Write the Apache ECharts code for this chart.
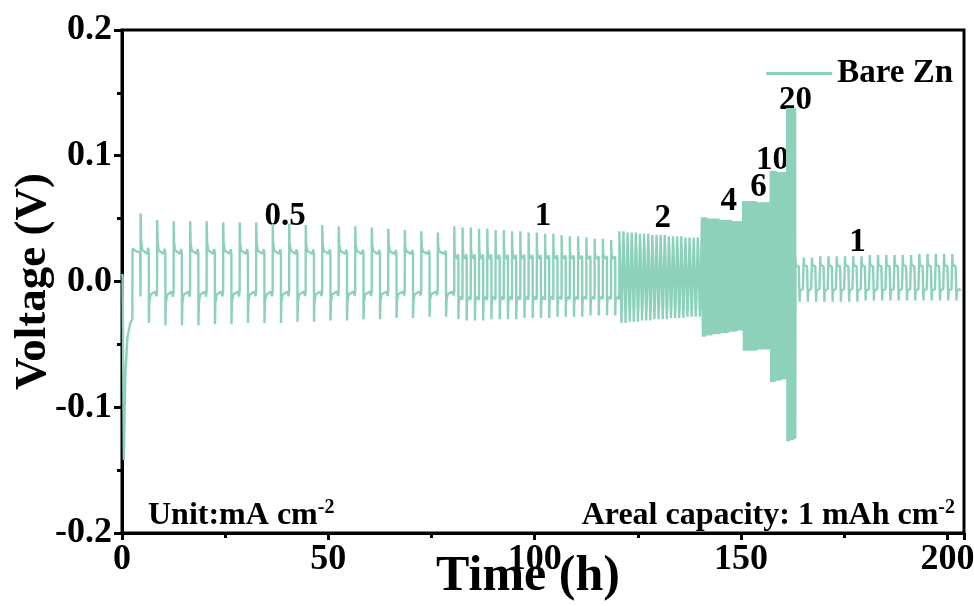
<!DOCTYPE html>
<html>
<head>
<meta charset="utf-8">
<script src="https://cdn.jsdelivr.net/npm/echarts@6/dist/echarts.min.js"></script>
<style>
  html, body { margin: 0; padding: 0; background: #fff; }
  #main { width: 974px; height: 606px; }
</style>
</head>
<body>
<div id="main"></div>
<script>
// current density of each step (mA cm-2), where it starts (h), hours per cycle
var rateLabels = ['0.5', '1', '2', '4', '6', '10', '20', '1'];
var segStart = [4.5, 80.5, 120.5, 140.5, 150.5, 157.17, 161.17, 163.17];
var cycleHours = [4, 2, 1, 0.5, 1 / 3, 0.2, 0.1, 2];

// plateau levels (V) of each step
var plateauTop = [0.022, 0.018, 0.027, 0.044, 0.058, 0.080, 0.125, 0.012];
var plateauBottom = [-0.008, -0.012, -0.021, -0.036, -0.048, -0.070, -0.115, -0.006];

// spike values of every cycle
var peakTop = [
    [0.054, 0.049, 0.048, 0.048, 0.048, 0.047, 0.047, 0.047, 0.046, 0.046, 0.045, 0.045, 0.044, 0.044, 0.043, 0.042, 0.041, 0.040, 0.039],
    [0.044, 0.043, 0.043, 0.042, 0.042, 0.041, 0.041, 0.040, 0.040, 0.039, 0.039, 0.038, 0.038, 0.037, 0.036, 0.036, 0.035, 0.034, 0.034, 0.033],
    [0.040, 0.040, 0.039, 0.039, 0.039, 0.038, 0.038, 0.038, 0.037, 0.037, 0.037, 0.037, 0.036, 0.036, 0.036, 0.036, 0.035, 0.035, 0.035, 0.035],
    [0.051, 0.051, 0.051, 0.050, 0.050, 0.050, 0.050, 0.050, 0.050, 0.049, 0.049, 0.049, 0.049, 0.049, 0.049, 0.048, 0.048, 0.048, 0.048, 0.048],
    [0.064, 0.064, 0.064, 0.064, 0.064, 0.064, 0.064, 0.064, 0.064, 0.064, 0.063, 0.063, 0.063, 0.063, 0.063, 0.063, 0.063, 0.063, 0.063, 0.063],
    [0.088, 0.088, 0.088, 0.088, 0.088, 0.088, 0.088, 0.087, 0.087, 0.087, 0.087, 0.087, 0.087, 0.087, 0.087, 0.087, 0.087, 0.087, 0.087, 0.087],
    [0.138, 0.138, 0.138, 0.138, 0.138, 0.138, 0.138, 0.138, 0.138, 0.138, 0.138, 0.138, 0.138, 0.138, 0.138, 0.138, 0.138, 0.138, 0.138, 0.138],
    [0.019, 0.019, 0.019, 0.020, 0.020, 0.020, 0.020, 0.020, 0.020, 0.021, 0.021, 0.021, 0.021, 0.021, 0.021, 0.022, 0.022, 0.022, 0.022, 0.022]
];
var peakBottom = [
    [-0.033, -0.035, -0.035, -0.035, -0.034, -0.034, -0.033, -0.033, -0.033, -0.032, -0.032, -0.031, -0.031, -0.030, -0.030, -0.029, -0.029, -0.028, -0.028],
    [-0.030, -0.031, -0.031, -0.031, -0.030, -0.030, -0.030, -0.030, -0.029, -0.029, -0.029, -0.029, -0.028, -0.028, -0.028, -0.028, -0.027, -0.027, -0.027, -0.027],
    [-0.033, -0.033, -0.032, -0.032, -0.032, -0.031, -0.031, -0.031, -0.030, -0.030, -0.030, -0.030, -0.029, -0.029, -0.029, -0.029, -0.028, -0.028, -0.028, -0.028],
    [-0.044, -0.044, -0.043, -0.043, -0.043, -0.042, -0.042, -0.042, -0.042, -0.041, -0.041, -0.041, -0.041, -0.040, -0.040, -0.040, -0.040, -0.039, -0.039, -0.039],
    [-0.055, -0.055, -0.055, -0.055, -0.055, -0.055, -0.055, -0.055, -0.055, -0.055, -0.054, -0.054, -0.054, -0.054, -0.054, -0.054, -0.054, -0.054, -0.054, -0.054],
    [-0.080, -0.080, -0.080, -0.080, -0.080, -0.079, -0.079, -0.079, -0.079, -0.079, -0.079, -0.079, -0.078, -0.078, -0.078, -0.078, -0.078, -0.078, -0.078, -0.078],
    [-0.127, -0.127, -0.127, -0.127, -0.127, -0.127, -0.126, -0.126, -0.126, -0.126, -0.126, -0.126, -0.126, -0.126, -0.125, -0.125, -0.125, -0.125, -0.125, -0.125],
    [-0.016, -0.016, -0.016, -0.016, -0.016, -0.016, -0.016, -0.016, -0.015, -0.015, -0.015, -0.015, -0.015, -0.015, -0.015, -0.015, -0.015, -0.015, -0.015, -0.015]
];

// first hours before cycling settles (nucleation dip)
var initTime = [0, 0.15, 0.45, 0.8, 1.3, 2.0, 2.5, 2.55, 3.5, 4.4, 4.48];
var initVolt = [0.006, 0.004, -0.142, -0.075, -0.045, -0.033, -0.030, 0.026, 0.024, 0.023, -0.012];

// shape of one half cycle: position in the half, share of the spike height
var halfPos = [0.01, 0.06, 0.2, 0.8, 0.92, 1.0];
var halfSpike = [1, 0.35, 0.1, 0, 0.15, 0];

// where the current labels sit (h, V)
var labelTime = [39.5, 102, 131, 147, 154.2, 157.6, 163.2, 178.2];
var labelVolt = [0.052, 0.052, 0.050, 0.064, 0.075, 0.096, 0.144, 0.031];

var data = [];
for (var i = 0; i < initTime.length; i++) data.push([initTime[i], initVolt[i]]);
for (var s = 0; s < segStart.length; s++) {
    var half = cycleHours[s] / 2;
    for (var c = 0; c < peakTop[s].length; c++) {
        var t0 = segStart[s] + c * cycleHours[s];
        for (var k = 0; k < halfPos.length; k++) {
            data.push([t0 + halfPos[k] * half,
                plateauTop[s] + halfSpike[k] * (peakTop[s][c] - plateauTop[s])]);
        }
        for (var k = 0; k < halfPos.length; k++) {
            data.push([t0 + half + halfPos[k] * half,
                plateauBottom[s] + halfSpike[k] * (peakBottom[s][c] - plateauBottom[s])]);
        }
    }
}

var labels = [];
for (var i = 0; i < rateLabels.length; i++) labels.push([labelTime[i], labelVolt[i], rateLabels[i]]);

var font = 'Liberation Serif';
var myChart = echarts.init(document.getElementById('main'));
option = {
    animation: false,
    backgroundColor: '#fff',
    grid: {
        left: 122, right: 10, top: 30, bottom: 73,
        outerBoundsMode: 'none',
        show: true, borderColor: '#000', borderWidth: 3
    },
    legend: {
        data: ['Bare Zn'],
        right: 16, top: 52,
        icon: 'rect', itemWidth: 66, itemHeight: 3, itemGap: 8,
        textStyle: { fontFamily: font, fontWeight: 'bold', fontSize: 33, color: '#000' }
    },
    xAxis: {
        type: 'value', min: 0, max: 204, interval: 50,
        name: 'Time (h)', nameLocation: 'middle', nameGap: 19, nameMoveOverlap: false,
        nameTextStyle: { fontFamily: font, fontWeight: 'bold', fontSize: 50, color: '#000', padding: [0, 30, 0, 0] },
        axisLine: { onZero: false, lineStyle: { color: '#000', width: 3 } },
        axisTick: { inside: false, length: 7, lineStyle: { color: '#000', width: 3 } },
        minorTick: { show: true, splitNumber: 2, length: 5, lineStyle: { color: '#000', width: 3 } },
        splitLine: { show: false },
        axisLabel: {
            showMaxLabel: false, margin: 9, color: '#000',
            fontFamily: font, fontWeight: 'bold', fontSize: 36
        }
    },
    yAxis: {
        type: 'value', min: -0.2, max: 0.2, interval: 0.1,
        name: 'Voltage (V)', nameLocation: 'middle', nameGap: 66, nameMoveOverlap: false,
        nameTextStyle: { fontFamily: font, fontWeight: 'bold', fontSize: 45, color: '#000' },
        axisLine: { onZero: false, lineStyle: { color: '#000', width: 3 } },
        axisTick: { inside: false, length: 8, lineStyle: { color: '#000', width: 3 } },
        minorTick: { show: true, splitNumber: 2, length: 5, lineStyle: { color: '#000', width: 3 } },
        splitLine: { show: false },
        axisLabel: {
            margin: 10, color: '#000',
            fontFamily: font, fontWeight: 'bold', fontSize: 36,
            formatter: function (v) { return v.toFixed(1); }
        }
    },
    series: [
        {
            name: 'Bare Zn',
            type: 'line',
            data: data,
            showSymbol: false,
            symbol: 'none',
            sampling: false,
            color: '#8dd1bb',
            lineStyle: { width: 2.4, color: '#8dd1bb' }
        },
        {
            name: 'rate',
            type: 'scatter',
            data: labels,
            symbolSize: 0,
            silent: true,
            itemStyle: { opacity: 1 },
            label: {
                show: true, position: 'inside', opacity: 1,
                formatter: function (p) { return p.data[2]; },
                fontFamily: font, fontWeight: 'bold', fontSize: 33, color: '#000'
            }
        }
    ],
    graphic: [
        {
            type: 'text', left: 148, top: 498,
            style: {
                text: '{a|Unit:mA cm}{s|-2}',
                rich: {
                    a: { fontFamily: font, fontWeight: 'bold', fontSize: 32, fill: '#000' },
                    s: { fontFamily: font, fontWeight: 'bold', fontSize: 20, fill: '#000', padding: [0, 0, 16, 0] }
                }
            }
        },
        {
            type: 'text', right: 19, top: 498,
            style: {
                text: '{a|Areal capacity: 1 mAh cm}{s|-2}',
                rich: {
                    a: { fontFamily: font, fontWeight: 'bold', fontSize: 32, fill: '#000' },
                    s: { fontFamily: font, fontWeight: 'bold', fontSize: 20, fill: '#000', padding: [0, 0, 16, 0] }
                }
            }
        }
    ]
};
myChart.setOption(option);
</script>
</body>
</html>
